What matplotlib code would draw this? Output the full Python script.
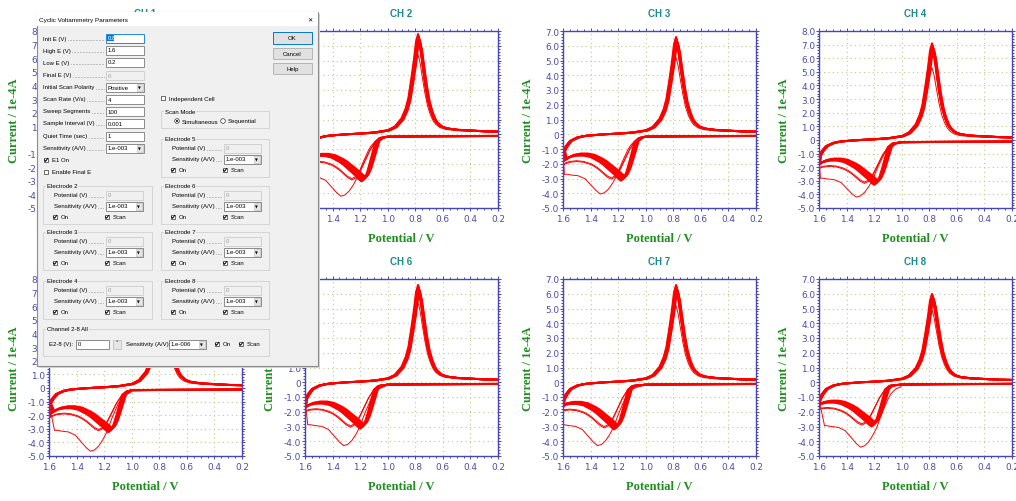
import numpy as np
import matplotlib
matplotlib.use("Agg")
import matplotlib.pyplot as plt
from matplotlib.patches import Rectangle, Circle
from matplotlib.ticker import MultipleLocator, FuncFormatter

plt.rcParams["axes.unicode_minus"] = False

W, H = 1016, 502

# ---- channel data (current in 1e-4 A) ----
CHANNELS = ["CH 1", "CH 2", "CH 3", "CH 4", "CH 5", "CH 6", "CH 7", "CH 8"]
Y_LOW = [-5.0, -5.0, -5.0, -5.0, -5.0, -5.0, -5.0, -5.0]
Y_HIGH = [8.0, 7.0, 7.0, 8.0, 8.0, 7.0, 7.0, 7.0]
RED_PEAK = [7.2, 6.8, 6.6, 7.1, 7.5, 6.6, 6.6, 6.0]          # steady reduction peak
RED_PEAK_FIRST = [5.8, 5.4, 5.2, 5.3, 6.0, 5.4, 5.2, 4.9]    # first cycle reduction peak
OX_PEAK = [-3.2, -3.2, -3.15, -3.3, -3.25, -3.15, -3.2, -3.0]
OX_PEAK_E = [1.17, 1.18, 1.17, 1.19, 1.16, 1.19, 1.22, 1.21]
OX_PEAK_FIRST = [-4.4, -4.2, -4.05, -4.2, -4.65, -4.3, -4.3, -4.4]
OX_PEAK_FIRST_E = [1.32, 1.34, 1.33, 1.33, 1.30, 1.32, 1.35, 1.30]

# cycle shapes read from CH 3
FWD_E = [0.20, 0.40, 0.60, 0.80, 1.00, 1.05, 1.08, 1.10, 1.12, 1.14, 1.16, 1.18, 1.20,
         1.22, 1.25, 1.28, 1.31, 1.34, 1.37, 1.40, 1.45, 1.50, 1.55, 1.58, 1.60]
FWD_STEADY = [-0.12, -0.13, -0.14, -0.15, -0.17, -0.25, -0.5, -1.2, -1.9, -2.55, -3.0, -3.15, -3.0,
              -2.8, -2.55, -2.3, -2.05, -1.85, -1.7, -1.55, -1.45, -1.45, -1.55, -1.7, -1.85]
FWD_EARLY = [-0.12, -0.13, -0.14, -0.15, -0.17, -0.3, -0.5, -0.8, -1.1, -1.5, -1.9, -2.3, -2.65,
             -2.9, -3.05, -2.9, -2.65, -2.4, -2.2, -2.05, -1.9, -1.85, -1.9, -2.0, -2.1]
FWD_FIRST = [-0.12, -0.13, -0.14, -0.15, -0.17, -0.3, -0.4, -0.55, -0.75, -1.05, -1.45, -1.85, -2.3,
             -2.8, -3.3, -3.7, -3.95, -4.03, -3.8, -3.5, -3.0, -2.8, -2.75, -2.7, -2.7]
REV_E = [1.60, 1.58, 1.55, 1.50, 1.45, 1.40, 1.30, 1.20, 1.10, 1.00, 0.95, 0.90, 0.87, 0.85, 0.83,
         0.81, 0.795, 0.78, 0.765, 0.75, 0.73, 0.71, 0.69, 0.67, 0.65, 0.62, 0.58, 0.50, 0.40, 0.30, 0.20]
REV_I = [-1.15, -0.8, -0.45, -0.22, -0.12, -0.07, 0.0, 0.05, 0.12, 0.27, 0.5, 1.05, 1.7, 2.4, 3.6,
         4.9, 6.1, 6.6, 5.9, 4.8, 3.4, 2.3, 1.6, 1.1, 0.8, 0.55, 0.4, 0.3, 0.25, 0.2, 0.18]

# repeated cycles forming the thick band
BAND_OX = [1.0, 0.98, 0.96, 0.94, 0.92, 0.90]
BAND_RED = [1.0, 0.985, 0.97, 0.955, 0.94, 0.93]
BAND_DE = [0.0, -0.006, -0.012, -0.018, -0.024, -0.03]
EARLY_OX = [1.0, 0.97]
EARLY_RED = [0.93, 0.95]

AX_BLUE = "#4646b8"
TICK_C = "#4b4ba8"
GRID_C = "#bfc98f"
GREEN = "#1f8f1f"
TEAL = "#1b8a8f"
RED = "#ff0000"

fwd_e = np.array(FWD_E)
rev_e = np.array(REV_E)
rev_i = np.array(REV_I)
peak_zone = fwd_e >= 1.05


def cycle(fwd_tpl, ox_scale, ox_shift, red_peak, red_shift):
    e1 = np.where(peak_zone, np.minimum(fwd_e + ox_shift, 1.6), fwd_e)
    i1 = np.array(fwd_tpl) * ox_scale
    e2 = np.clip(rev_e + red_shift, 0.2, 1.6)
    i2 = np.where(rev_i > 0, rev_i * red_peak / max(REV_I), rev_i)
    return np.concatenate([e1, e2]), np.concatenate([i1, i2])


def draw_channel(ax, k):
    ks = OX_PEAK[k] / min(FWD_STEADY)
    sh = OX_PEAK_E[k] - 1.17
    for so, sr, de in zip(BAND_OX, BAND_RED, BAND_DE):
        e, i = cycle(FWD_STEADY, ks * so, sh + de, RED_PEAK[k] * sr, de * 0.5)
        ax.plot(e, i, color=RED, lw=1.4)
    for so, sr in zip(EARLY_OX, EARLY_RED):
        e, i = cycle(FWD_EARLY, ks * so, sh, RED_PEAK[k] * sr, 0.0)
        ax.plot(e, i, color=RED, lw=0.7)
    kf = OX_PEAK_FIRST[k] / min(FWD_FIRST)
    e, i = cycle(FWD_FIRST, kf, OX_PEAK_FIRST_E[k] - 1.34, RED_PEAK_FIRST[k], 0.0)
    ax.plot(e, i, color=RED, lw=0.7)


def style_axes(ax, k):
    ax.set_xlim(1.6, 0.2)
    ax.set_ylim(Y_LOW[k], Y_HIGH[k])
    ax.xaxis.set_major_locator(MultipleLocator(0.2))
    ax.xaxis.set_minor_locator(MultipleLocator(0.05))
    ax.yaxis.set_major_locator(MultipleLocator(1.0))
    ax.yaxis.set_minor_locator(MultipleLocator(0.2))
    ax.xaxis.set_major_formatter(FuncFormatter(lambda v, p: f"{v:.1f}"))
    ax.yaxis.set_major_formatter(FuncFormatter(lambda v, p: "0" if abs(v) < 1e-9 else f"{v:.1f}"))
    ax.tick_params(which="both", direction="out", color=AX_BLUE, labelcolor=TICK_C,
                   top=True, right=True, labelsize=6.4, width=0.7)
    ax.tick_params(which="major", length=2.0, pad=0.8)
    ax.tick_params(axis="x", which="major", pad=2.5)
    ax.tick_params(which="minor", length=1.5)
    for s in ax.spines.values():
        s.set_color(AX_BLUE)
        s.set_linewidth(1.0)
    ax.grid(True, which="major", color=GRID_C, linestyle=(0, (1, 3)), linewidth=0.8)
    ax.set_title(CHANNELS[k], color=TEAL, fontsize=7, fontweight="bold",
                 family="Liberation Sans", pad=11)
    ax.set_xlabel("Potential / V", family="Liberation Serif", fontweight="bold",
                  color=GREEN, fontsize=9, labelpad=6.5)
    ax.set_ylabel("Current / 1e-4A", family="Liberation Serif", fontweight="bold",
                  color=GREEN, fontsize=9, labelpad=6)


fig = plt.figure(figsize=(W / 100, H / 100), dpi=100)
fig.patch.set_facecolor("white")

AX_LEFT = [49, 305, 563, 819]
AX_TOP = [32, 280]
AX_W, AX_H = 193, 177

for k in range(len(CHANNELS)):
    row, col = divmod(k, 4)
    x0, y0 = AX_LEFT[col], AX_TOP[row]
    ax = fig.add_axes([x0 / W, 1 - (y0 + AX_H) / H, AX_W / W, AX_H / H])
    draw_channel(ax, k)
    style_axes(ax, k)

# ---- parameter dialog drawn over the plots (pixel coordinates) ----
ov = fig.add_axes([0, 0, 1, 1], zorder=10)
ov.set_xlim(0, W)
ov.set_ylim(H, 0)
ov.axis("off")
renderer = fig.canvas.get_renderer()

FONT = "Liberation Sans"
FS = 4.3
DLG_BG = "#f0f0f0"


def rect(x, y, w, h, fc, ec, lw=0.6):
    ov.add_patch(Rectangle((x, y), w, h, facecolor=fc, edgecolor=ec, linewidth=lw))


def label(x, y, s, color="black", size=FS, **kw):
    return ov.text(x, y, s, fontsize=size, family=FONT, color=color, va="center", ha="left", **kw)


def field_label(x, y, s, x_end):
    t = label(x, y, s)
    bb = t.get_window_extent(renderer)
    ov.plot([bb.x1 + 1.5, x_end], [y + 1.8, y + 1.8], color="#444444", lw=0.5,
            linestyle=(0, (0.6, 1.6)))


def edit(x, y, w, s, state="normal"):
    if state == "disabled":
        rect(x, y - 4.5, w, 9, DLG_BG, "#cccccc")
        label(x + 1.5, y, s, color="#9a9a9a")
    elif state == "selected":
        rect(x, y - 4.5, w, 9, "white", "#0078d7")
        rect(x + 1.2, y - 3.3, 6.5, 6.6, "#0078d7", "none")
        label(x + 1.5, y, s, color="white")
    else:
        rect(x, y - 4.5, w, 9, "white", "#7a7a7a")
        label(x + 1.5, y, s)


def combo(x, y, w, s):
    rect(x, y - 4.5, w, 9, "white", "#7a7a7a")
    rect(x + w - 7.5, y - 3.5, 6.5, 7, "#e6e6e6", "#b5b5b5", lw=0.4)
    ov.text(x + w - 4.2, y + 0.3, "\u25bc", fontsize=2.6, family="DejaVu Sans",
            ha="center", va="center")
    label(x + 1.5, y, s)


def check(x, y, on, text=None, tx=None):
    rect(x - 2.3, y - 2.3, 4.6, 4.6, "white", "#333333", lw=0.5)
    if on:
        ov.plot([x - 1.5, x - 0.4, x + 1.6], [y - 0.1, y + 1.3, y - 1.5], color="black", lw=0.7)
    if text:
        label(tx, y, text)


def radio(x, y, on, text, tx):
    ov.add_patch(Circle((x, y), 2.3, facecolor="white", edgecolor="#333333", linewidth=0.5))
    if on:
        ov.add_patch(Circle((x, y), 1.0, facecolor="black", edgecolor="none"))
    label(tx, y, text)


def group(x, y, w, h, title):
    rect(x, y, w, h, "none", "#d0d0d0")
    label(x + 4, y, title, bbox=dict(facecolor=DLG_BG, edgecolor="none", pad=0.6))


def button(x, y, w, h, s, default=False):
    rect(x, y, w, h, "#e1e1e1", "#0078d7" if default else "#adadad", lw=0.7 if default else 0.6)
    ov.text(x + w / 2, y + h / 2, s, fontsize=FS, family=FONT, ha="center", va="center")


# frame and title bar
rect(39, 15, 281, 354, "#d8d8d8", "none")
rect(37, 13, 281, 354, DLG_BG, "#8c8c8c", lw=0.8)
rect(37.4, 13.4, 280.2, 14, "white", "none")
label(39, 20.5, "Cyclic Voltammetry Parameters", size=4.6)
ov.text(310, 21, "\u2715", fontsize=4.5, family="DejaVu Sans", ha="center", va="center")

# left parameter column
params = [("Init E (V)", 39, "0.8", "selected"), ("High E (V)", 51, "1.6", "normal"),
          ("Low E (V)", 63, "0.2", "normal"), ("Final E (V)", 76, "0", "disabled"),
          ("Initial Scan Polarity", 88, "Positive", "combo"), ("Scan Rate (V/s)", 100, "4", "normal"),
          ("Sweep Segments", 112, "100", "normal"), ("Sample Interval (V)", 124, "0.001", "normal"),
          ("Quiet Time (sec)", 137, "1", "normal"), ("Sensitivity (A/V)", 149, "1.e-003", "combo")]
for name, y, val, state in params:
    field_label(43, y, name, 104)
    if state == "combo":
        combo(106, y, 38, val)
    else:
        edit(106, y, 38, val, state)

check(46, 161, True, "E1 On", 52)
check(46, 173, False, "Enable Final E", 52)

# right column
check(163, 99, False, "Independent Cell", 169)
group(161, 112, 108, 17, "Scan Mode")
radio(177, 122, True, "Simultaneous", 182)
radio(223, 122, False, "Sequential", 228)


def electrode(x, y, w, n):
    group(x, y, w, 38, f"Electrode {n}")
    field_label(x + 11, y + 9, "Potential (V)", x + 61)
    edit(x + 63, y + 9, 37, "0", "disabled")
    field_label(x + 11, y + 20, "Sensitivity (A/V)", x + 61)
    combo(x + 63, y + 20, 37, "1.e-003")
    check(x + 12, y + 31, True, "On", x + 18)
    check(x + 64, y + 31, True, "Scan", x + 70)


for n, y in zip([2, 3, 4], [187, 233, 282]):
    electrode(43, y, 109, n)
for n, y in zip([5, 6, 7, 8], [140, 187, 233, 282]):
    electrode(161, y, 108, n)

group(43, 330, 226, 27, "Channel 2-8 All")
label(49, 345, "E2-8 (V):")
edit(76, 345, 33, "0")
rect(112.5, 340.5, 8, 9, "#e6e6e6", "#adadad", lw=0.4)
ov.text(116.5, 344, "\u02c4", fontsize=4, family="DejaVu Sans", ha="center", va="center")
label(126, 345, "Sensitivity (A/V):")
combo(169, 345, 37, "1.e-006")
check(217, 345, True, "On", 223)
check(241, 345, True, "Scan", 247)

button(273, 33, 39, 12, "OK", default=True)
button(273, 49, 39, 11, "Cancel")
button(273, 64, 39, 11, "Help")

fig.savefig("out.png", dpi=100, facecolor="white")
